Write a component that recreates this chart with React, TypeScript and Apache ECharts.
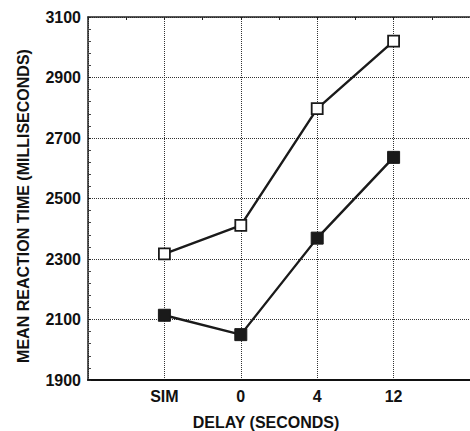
import React, { useEffect, useRef } from "react";
import * as echarts from "echarts";

const categories = ["SIM", "0", "4", "12"];
const openSeries = [2317, 2411, 2797, 3020];
const filledSeries = [2114, 2050, 2369, 2636];
const yTicks = { min: 1900, max: 3100, interval: 200 };
const xTitle = "DELAY (SECONDS)";
const yTitle = "MEAN REACTION TIME (MILLISECONDS)";

const FONT = "'Liberation Sans', Arial, Helvetica, sans-serif";

export default function App() {
  const ref = useRef<HTMLDivElement>(null);
  useEffect(() => {
    if (!ref.current) return;
    const chart = echarts.init(ref.current, undefined, { renderer: "svg" });
    const toPts = (arr: number[]) => arr.map((v, i) => [i + 1, v]);
    const labelFmt = (v: number) => categories[v - 1] ?? "";
    chart.setOption({
      animation: false,
      backgroundColor: "#ffffff",
      grid: { left: 88, right: -5, top: 17, bottom: 51, containLabel: false },
      xAxis: [
        {
          type: "value",
          position: "bottom",
          min: 0,
          max: 5,
          interval: 1,
          axisLine: { show: true, onZero: false, lineStyle: { color: "#111", width: 2 } },
          axisTick: { show: false },
          axisLabel: {
            formatter: labelFmt,
            margin: 8,
            color: "#111",
            fontSize: 16,
            fontWeight: "bold",
            fontFamily: FONT,
            showMinLabel: false,
            showMaxLabel: false,
          },
          splitLine: { show: true, lineStyle: { type: "dotted", color: "#333", width: 1 } },
        },
        {
          type: "value",
          position: "top",
          min: 0,
          max: 5,
          interval: 0.5,
          axisLine: { show: true, onZero: false, lineStyle: { color: "#222", width: 1.5 } },
          axisTick: { show: true, inside: true, length: 3, lineStyle: { color: "#222" } },
          axisLabel: { show: false },
          splitLine: { show: false },
        },
      ],
      yAxis: {
        type: "value",
        min: yTicks.min,
        max: yTicks.max,
        interval: yTicks.interval,
        axisLine: { show: true, onZero: false, lineStyle: { color: "#222", width: 1.5 } },
        axisTick: { show: true, inside: true, length: 3, lineStyle: { color: "#222" } },
        minorTick: { show: true, splitNumber: 5, length: 3, lineStyle: { color: "#444" } },
        axisLabel: {
          formatter: (v: number) => String(v),
          margin: 7,
          color: "#111",
          fontSize: 16,
          fontWeight: "bold",
          fontFamily: FONT,
        },
        splitLine: { show: true, lineStyle: { type: "dotted", color: "#333", width: 1 } },
      },
      series: [
        {
          type: "line",
          data: toPts(openSeries),
          symbol: "rect",
          symbolSize: 11,
          lineStyle: { color: "#1a1a1a", width: 2.4 },
          itemStyle: { color: "#ffffff", borderColor: "#1a1a1a", borderWidth: 1.8 },
          z: 3,
        },
        {
          type: "line",
          data: toPts(filledSeries),
          symbol: "rect",
          symbolSize: 12,
          lineStyle: { color: "#1a1a1a", width: 2.4 },
          itemStyle: { color: "#1a1a1a", borderColor: "#1a1a1a", borderWidth: 1 },
          z: 3,
        },
      ],
      graphic: [
        {
          type: "text",
          x: 266,
          y: 422,
          style: {
            text: xTitle,
            fill: "#111",
            font: `bold 16px ${FONT}`,
            textAlign: "center",
            textVerticalAlign: "middle",
          },
        },
        {
          type: "text",
          x: 23,
          y: 206,
          rotation: Math.PI / 2,
          style: {
            text: yTitle,
            fill: "#111",
            font: `bold 16px ${FONT}`,
            textAlign: "center",
            textVerticalAlign: "middle",
          },
        },
      ],
    });
    return () => chart.dispose();
  }, []);
  return (
    <div
      ref={ref}
      style={{ position: "absolute", left: 0, top: 0, width: 470, height: 431 }}
    />
  );
}
